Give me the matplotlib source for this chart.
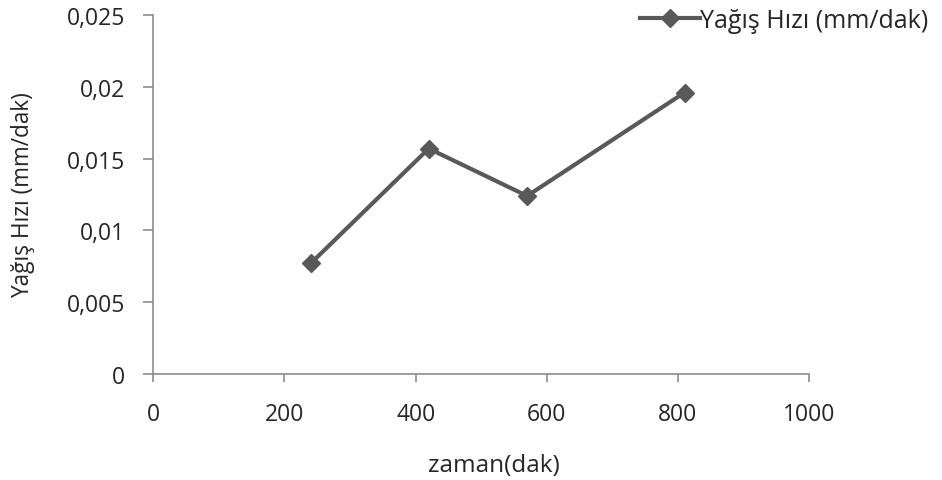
import matplotlib.pyplot as plt
from matplotlib.ticker import FuncFormatter

# veriler
zaman = [240, 420, 570, 810]
yagis_hizi = [0.0077, 0.0157, 0.0124, 0.0196]
x_ticks = [0, 200, 400, 600, 800, 1000]
y_ticks = [0, 0.005, 0.01, 0.015, 0.02, 0.025]

plt.rcParams['font.family'] = ['Open Sans', 'DejaVu Sans']
renk = '#595959'
yazi = '#262626'
eksen = '#8c8c8c'

fig = plt.figure(figsize=(9.42, 4.81), dpi=100)
ax = fig.add_axes([0.1627, 0.2204, 0.6963, 0.7463])

ax.plot(zaman, yagis_hizi, color=renk, lw=3, marker='D', ms=9,
        label='Yağış Hızı (mm/dak)')

ax.set_xlim(0, 1000)
ax.set_ylim(0, 0.025)
ax.set_xticks(x_ticks)
ax.set_yticks(y_ticks)
# virgüllü ondalık
ax.yaxis.set_major_formatter(FuncFormatter(lambda v, p: ('%g' % v).replace('.', ',')))

for s in ['top', 'right']:
    ax.spines[s].set_visible(False)
for s in ['left', 'bottom']:
    ax.spines[s].set_color(eksen)
    ax.spines[s].set_linewidth(1.2)
ax.tick_params(axis='both', colors=eksen, labelcolor=yazi, labelsize=16.5,
               width=1.2)
ax.tick_params(axis='x', length=6, pad=14)
ax.tick_params(axis='y', length=7, pad=13)

ax.set_xlabel('zaman(dak)', fontsize=17.5, color=yazi)
ax.xaxis.set_label_coords(0.52, -0.22)
ax.set_ylabel('Yağış Hızı (mm/dak)', fontsize=16.3, color=yazi)
ax.yaxis.set_label_coords(-0.18, 0.5)

fig.legend(loc='upper right', bbox_to_anchor=(1.009, 1.028), frameon=False,
           fontsize=18, handlelength=2.4, handletextpad=0.0,
           labelcolor=yazi)

fig.savefig('out.png', dpi=100)
